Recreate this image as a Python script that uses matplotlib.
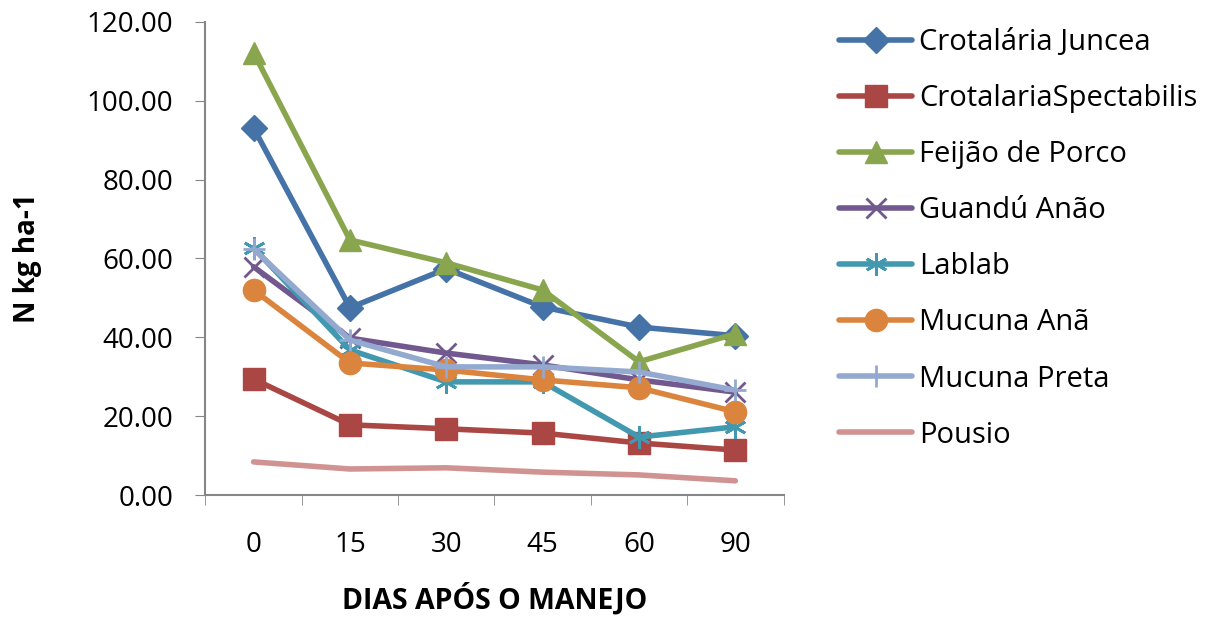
import matplotlib
matplotlib.use("Agg")
import matplotlib.pyplot as plt

# dados
dias = ['0', '15', '30', '45', '60', '90']
series = ['Crotalária Juncea', 'CrotalariaSpectabilis', 'Feijão de Porco',
          'Guandú Anão', 'Lablab', 'Mucuna Anã', 'Mucuna Preta', 'Pousio']
crot_juncea = [93.1, 47.5, 57.4, 47.7, 42.6, 40.4]
crot_spect = [29.4, 17.8, 16.8, 15.7, 13.2, 11.4]
feijao_porco = [112.2, 64.7, 58.9, 52.0, 33.8, 40.9]
guandu_anao = [57.9, 39.8, 36.0, 33.0, 29.2, 26.1]
lablab = [62.7, 36.8, 28.7, 28.7, 14.7, 17.3]
mucuna_ana = [52.0, 33.5, 31.7, 29.2, 27.2, 21.1]
mucuna_preta = [62.4, 39.3, 32.5, 32.5, 31.2, 26.6]
pousio = [8.4, 6.6, 6.9, 5.8, 5.1, 3.6]

valores = [crot_juncea, crot_spect, feijao_porco, guandu_anao,
           lablab, mucuna_ana, mucuna_preta, pousio]
cores = ['#4572A7', '#AA4643', '#89A54E', '#71588F',
         '#4198AF', '#DB843D', '#93A9CF', '#D19392']
marcadores = ['D', 's', '^', 'x', (6, 2, 0), 'o', '+', None]
tamanhos = [13, 16, 16, 14, 16, 16, 16, 0]


def main():
    plt.rcParams['font.family'] = ['Open Sans', 'DejaVu Sans']
    fig = plt.figure(figsize=(12.3, 6.2), dpi=100)
    ax = fig.add_axes([0.167, 0.2016, 0.47, 0.763])

    x = list(range(len(dias)))
    for i in range(len(series)):
        ax.plot(x, valores[i], color=cores[i], lw=4, marker=marcadores[i],
                markersize=tamanhos[i], markeredgewidth=2 if i in (3, 4, 6) else 1,
                markeredgecolor=cores[i], label=series[i],
                solid_capstyle='round')

    ax.set_xlim(-0.5, len(dias) - 0.5)
    ax.set_ylim(0, 120)
    ax.set_yticks(range(0, 121, 20))
    ax.set_yticklabels(['%.2f' % v for v in range(0, 121, 20)], fontsize=20)
    ax.set_xticks(x)
    ax.set_xticklabels(dias, fontsize=20)
    ax.tick_params(axis='x', which='major', length=0, pad=26)
    ax.set_xticks([i - 0.5 for i in range(len(dias) + 1)], minor=True)
    ax.tick_params(axis='x', which='minor', length=7, color='#868686')
    ax.tick_params(axis='y', length=7, color='#868686', pad=16)

    for s in ['top', 'right']:
        ax.spines[s].set_visible(False)
    for s in ['left', 'bottom']:
        ax.spines[s].set_color('#868686')
        ax.spines[s].set_linewidth(1.5)

    ax.set_xlabel('DIAS APÓS O MANEJO', fontsize=20.5, fontweight='bold', labelpad=17)
    ax.set_ylabel('N kg ha-1', fontsize=20, fontweight='bold', labelpad=32)

    fig.legend(loc='upper left', bbox_to_anchor=(0.673, 0.974), frameon=False,
               fontsize=21, handlelength=2.5, labelspacing=0.93, handletextpad=0.24,
               borderaxespad=0)

    fig.savefig('out.png', dpi=100)


if __name__ == "__main__":
    main()
